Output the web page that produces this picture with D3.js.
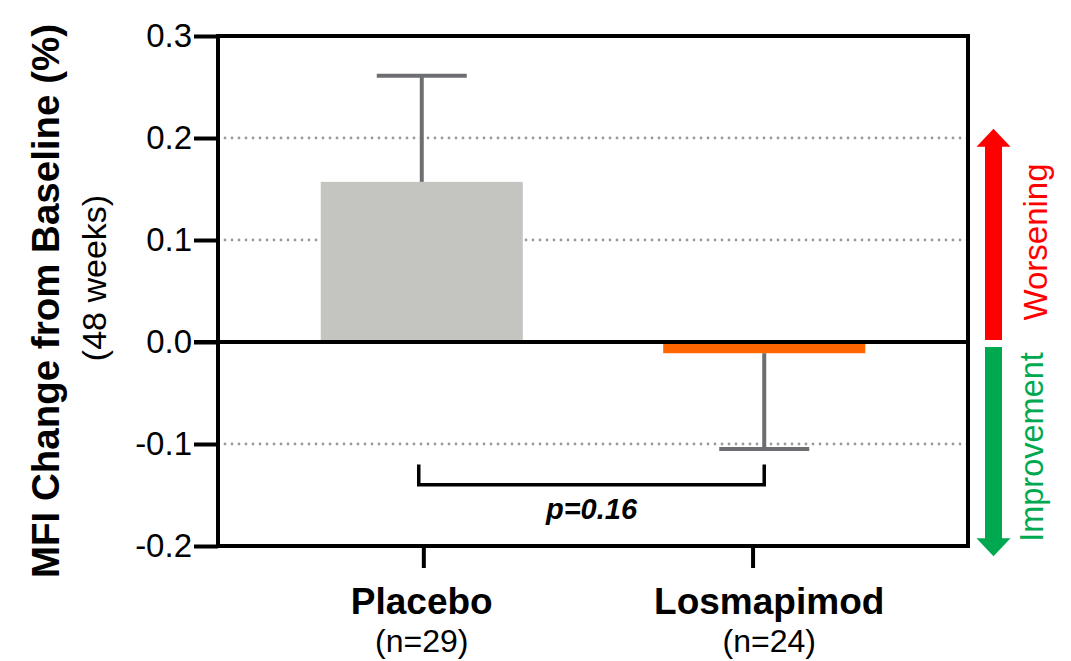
<!DOCTYPE html>
<html>
<head>
<meta charset="utf-8">
<script src="https://cdn.jsdelivr.net/npm/d3@7"></script>
<style>
  html, body { margin: 0; padding: 0; background: #fff; }
  svg { display: block; font-family: "Liberation Sans", Arial, Helvetica, sans-serif; }
</style>
</head>
<body>
<svg id="chart" width="1071" height="661"></svg>
<script>
// ---- data ----
const categories = ["Placebo", "Losmapimod"];
const sampleSizes = ["(n=29)", "(n=24)"];
const means = [0.157, -0.011];
const errorEnds = [0.261, -0.105];
const barColors = ["#c4c5c1", "#ff6600"];
const yTicks = [0.3, 0.2, 0.1, 0.0, -0.1, -0.2];
const yTickLabels = ["0.3", "0.2", "0.1", "0.0", "-0.1", "-0.2"];
const gridValues = [0.2, 0.1, -0.1];
const bracketValues = [-0.12, -0.14];
const pLabel = "p=0.16";
const arrowUp = [0.002, 0.209];
const arrowDown = [-0.005, -0.21];

// ---- layout ----
const svg = d3.select("#chart");
const L = 218, R = 968, T = 36, B = 546;

const y = d3.scaleLinear().domain([-0.2, 0.3]).range([B, T]);
const x = d3.scaleBand().domain(categories).range([L, R]).paddingInner(0.41).paddingOuter(0.3);
const xt = d3.scalePoint().domain(categories).range([L, R]).padding(0.639).align(0.488);
const cx = d => x(d) + x.bandwidth() / 2;

// gridlines
svg.append("g").selectAll("line").data(gridValues).join("line")
  .attr("x1", L).attr("x2", R)
  .attr("y1", d => y(d)).attr("y2", d => y(d))
  .attr("stroke", "#9a9a9a").attr("stroke-width", 2.8)
  .attr("stroke-linecap", "round").attr("stroke-dasharray", "0,7");

// bars
svg.append("g").selectAll("rect").data(categories).join("rect")
  .attr("x", d => x(d)).attr("width", x.bandwidth())
  .attr("y", (d, i) => y(Math.max(0, means[i])))
  .attr("height", (d, i) => Math.abs(y(means[i]) - y(0)))
  .attr("fill", (d, i) => barColors[i]);

// error bars
const eb = svg.append("g").attr("stroke", "#6d6e71").attr("stroke-width", 4);
categories.forEach((c, i) => {
  eb.append("line").attr("x1", cx(c)).attr("x2", cx(c))
    .attr("y1", y(means[i])).attr("y2", y(errorEnds[i]));
  eb.append("line").attr("x1", cx(c) - 45).attr("x2", cx(c) + 45)
    .attr("y1", y(errorEnds[i])).attr("y2", y(errorEnds[i]));
});

// y axis
const yAxis = d3.axisLeft(y).tickValues(yTicks).tickSize(24).tickPadding(2)
  .tickFormat((d, i) => yTickLabels[i]);
const gy = svg.append("g").attr("transform", `translate(${L},0)`).call(yAxis);
gy.select(".domain").remove();
gy.selectAll(".tick line").attr("stroke", "#000").attr("stroke-width", 4);
gy.selectAll(".tick text").attr("font-size", 33).attr("fill", "#000")
  .attr("font-family", "Liberation Sans, Arial, sans-serif");

// x axis
const xAxis = d3.axisBottom(xt).tickSize(22).tickFormat("");
const gx = svg.append("g").attr("transform", `translate(0,${B})`).call(xAxis);
gx.select(".domain").remove();
gx.selectAll(".tick line").attr("stroke", "#000").attr("stroke-width", 4);

// frame
svg.append("rect").attr("x", L).attr("y", T).attr("width", R - L).attr("height", B - T)
  .attr("fill", "none").attr("stroke", "#000").attr("stroke-width", 4);
// zero line
svg.append("line").attr("x1", L - 24).attr("x2", R).attr("y1", y(0)).attr("y2", y(0))
  .attr("stroke", "#000").attr("stroke-width", 4);

// category labels
categories.forEach((c, i) => {
  svg.append("text").attr("x", cx(c) + (i === 1 ? 5 : 0)).attr("y", 614)
    .attr("text-anchor", "middle").attr("font-size", 37).attr("font-weight", "bold").text(c);
  svg.append("text").attr("x", cx(c) + (i === 1 ? 5 : 0)).attr("y", 652)
    .attr("text-anchor", "middle").attr("font-size", 32).text(sampleSizes[i]);
});

// significance bracket
const bx1 = cx(categories[0]) - 3, bx2 = cx(categories[1]);
svg.append("path")
  .attr("d", `M${bx1},${y(bracketValues[0])}V${y(bracketValues[1])}H${bx2}V${y(bracketValues[0])}`)
  .attr("fill", "none").attr("stroke", "#000").attr("stroke-width", 3.5);
svg.append("text").attr("x", (bx1 + bx2) / 2).attr("y", 519).attr("text-anchor", "middle")
  .attr("font-size", 29).attr("font-weight", "bold").attr("font-style", "italic").text(pLabel);

// y axis title
svg.append("text").attr("transform", `translate(59,${301}) rotate(-90)`)
  .attr("text-anchor", "middle").attr("font-size", 38.5).attr("font-weight", "bold")
  .text("MFI Change from Baseline (%)");
svg.append("text").attr("transform", `translate(106,${278}) rotate(-90)`)
  .attr("text-anchor", "middle").attr("font-size", 34)
  .text("(48 weeks)");

// arrows
const ax = 993.5, shaftW = 17, headW = 34, headH = 18;
function arrow(v0, v1, color) {
  const y0 = y(v0), y1 = y(v1);
  const dir = y1 < y0 ? -1 : 1;
  const yb = y1 - dir * headH;
  svg.append("path")
    .attr("d", `M${ax - shaftW / 2},${y0}V${yb}H${ax - headW / 2}L${ax},${y1}L${ax + headW / 2},${yb}H${ax + shaftW / 2}V${y0}Z`)
    .attr("fill", color);
}
arrow(arrowUp[0], arrowUp[1], "#ff0000");
arrow(arrowDown[0], arrowDown[1], "#00a94f");

svg.append("text").attr("transform", `translate(1047,${242}) rotate(-90)`)
  .attr("text-anchor", "middle").attr("font-size", 33).attr("fill", "#ff0000").text("Worsening");
svg.append("text").attr("transform", `translate(1043,${447}) rotate(-90)`)
  .attr("text-anchor", "middle").attr("font-size", 32.5).attr("fill", "#00a94f").text("Improvement");
</script>
</body>
</html>
